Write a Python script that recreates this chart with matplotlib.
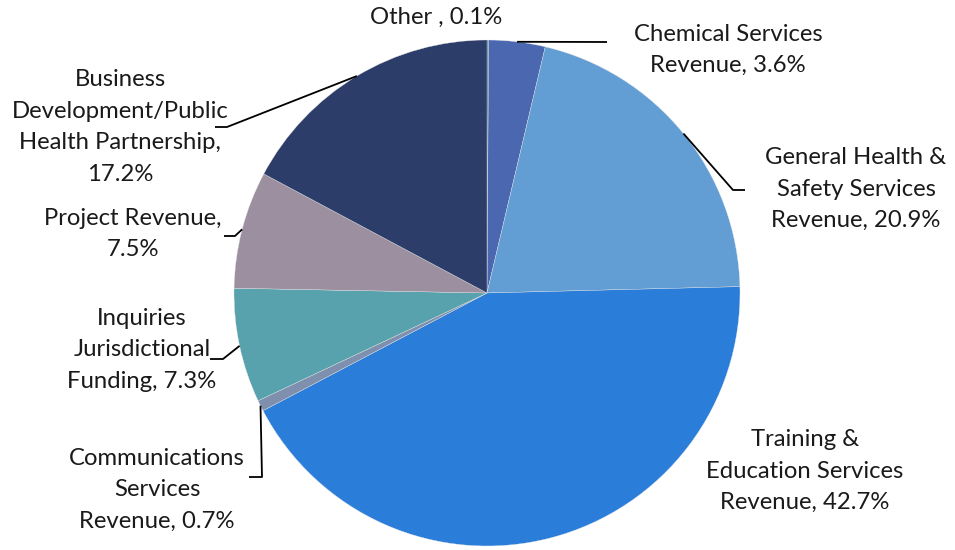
import numpy as np
import matplotlib
matplotlib.use("Agg")
import matplotlib.pyplot as plt

plt.rcParams['font.family'] = ['Lato', 'DejaVu Sans']

categories = [
    "Other",
    "Chemical Services Revenue",
    "General Health & Safety Services Revenue",
    "Training & Education Services Revenue",
    "Communications Services Revenue",
    "Inquiries Jurisdictional Funding",
    "Project Revenue",
    "Business Development/Public Health Partnership",
]
shares = [0.1, 3.6, 20.9, 42.7, 0.7, 7.3, 7.5, 17.2]
labels = [
    "Other , 0.1%",
    "Chemical Services\nRevenue, 3.6%",
    "General Health &\nSafety Services\nRevenue, 20.9%",
    "Training &\nEducation Services\nRevenue, 42.7%",
    "Communications\nServices\nRevenue, 0.7%",
    "Inquiries\nJurisdictional\nFunding, 7.3%",
    "Project Revenue,\n7.5%",
    "Business\nDevelopment/Public\nHealth Partnership,\n17.2%",
]
colors = ["#3F7F93", "#4A67B0", "#629ED3", "#2A7DD8", "#7F8FAE",
          "#58A2AD", "#9C8FA0", "#2C3D69"]

W, H = 955, 550
fig = plt.figure(figsize=(W / 100, H / 100), dpi=100)
ax = fig.add_axes([0, 0, 1, 1])

cx, cy, r = 487, 293, 253

# pie in pixel space (y axis points down, so angles run clockwise visually)
wedges, _ = ax.pie(shares, colors=colors, startangle=-90, counterclock=True,
                   center=(cx, cy), radius=r, frame=True,
                   wedgeprops=dict(linewidth=0.25, edgecolor='#e8e8e8'))
ax.set_xlim(0, W)
ax.set_ylim(H, 0)
ax.set_aspect('equal')
ax.axis('off')

# label centres and leader-line elbows
text_pos = [(436, 17), (728, 50), (856, 189), (805, 471),
            (157, 490), (142, 350), (133, 234), (120, 127)]
leaders = [
    None,
    [(607, 42)],
    [(733, 190), (745, 190)],
    None,
    [(262, 477), (249, 477)],
    [(223, 359), (210, 359)],
    [(235, 236), (224, 236)],
    [(227, 127), (215, 127)],
]

for w, lab, (tx, ty), lead in zip(wedges, labels, text_pos, leaders):
    ax.text(tx, ty, lab, ha='center', va='center', multialignment='center',
            fontsize=17.2, color='#1a1a1a', linespacing=1.62)
    if lead is not None:
        mid = np.deg2rad((w.theta1 + w.theta2) / 2)
        ax_x = cx + r * np.cos(mid)
        ax_y = cy + r * np.sin(mid)
        xs = [ax_x] + [p[0] for p in lead]
        ys = [ax_y] + [p[1] for p in lead]
        ax.plot(xs, ys, color='black', lw=1.3, solid_capstyle='butt')

fig.savefig("out.png", dpi=100)
